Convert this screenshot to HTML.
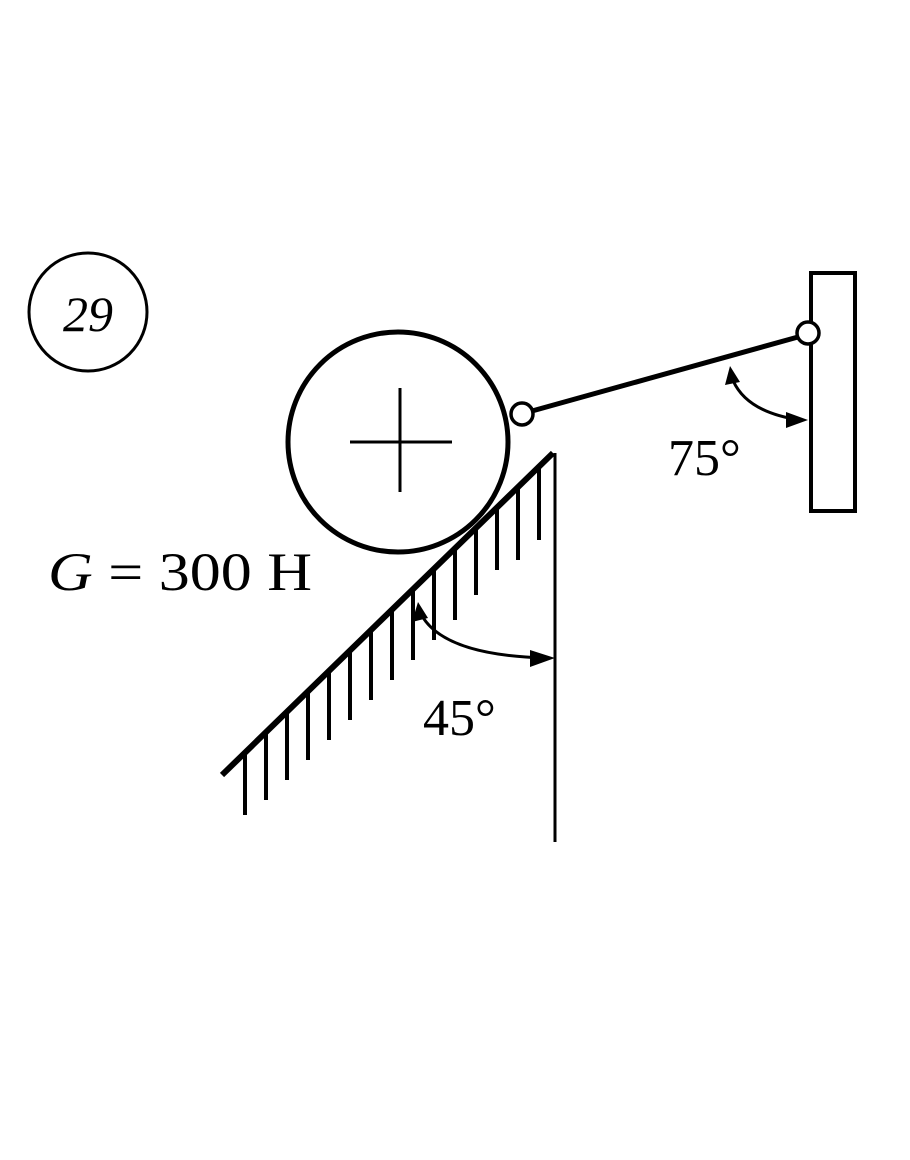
<!DOCTYPE html>
<html><head><style>body{margin:0;background:#fff}</style></head><body>
<svg width="910" height="1155" xmlns="http://www.w3.org/2000/svg" font-family="Liberation Serif, serif">
<rect width="910" height="1155" fill="#fff"/>
<circle cx="88" cy="312" r="59" fill="none" stroke="#000" stroke-width="3"/>
<text x="88" y="331" font-size="50" font-style="italic" text-anchor="middle">29</text>
<circle cx="398" cy="442" r="110" fill="none" stroke="#000" stroke-width="5"/>
<line x1="350" y1="442" x2="452" y2="442" stroke="#000" stroke-width="3"/>
<line x1="400" y1="388" x2="400" y2="492" stroke="#000" stroke-width="3"/>
<line x1="532" y1="411" x2="798" y2="337" stroke="#000" stroke-width="5"/>
<circle cx="522" cy="414" r="11" fill="#fff" stroke="#000" stroke-width="3.5"/>
<rect x="811" y="273" width="44" height="238" fill="none" stroke="#000" stroke-width="4"/>
<circle cx="808" cy="333" r="11" fill="#fff" stroke="#000" stroke-width="3.5"/>
<path d="M732 378 Q745 412 800 420" fill="none" stroke="#000" stroke-width="3"/>
<polygon points="730,366 725,385 740,382" fill="#000"/>
<polygon points="808,420 786,412 786,428" fill="#000"/>
<text x="668" y="475" font-size="52">75°</text>
<line x1="222" y1="775" x2="553" y2="453" stroke="#000" stroke-width="6"/>
<line x1="555" y1="453" x2="555" y2="842" stroke="#000" stroke-width="3"/>
<g stroke="#000" stroke-width="4">
<line x1="245" y1="753" x2="245" y2="815"/>
<line x1="266" y1="732" x2="266" y2="800"/>
<line x1="287" y1="712" x2="287" y2="780"/>
<line x1="308" y1="692" x2="308" y2="760"/>
<line x1="329" y1="671" x2="329" y2="740"/>
<line x1="350" y1="651" x2="350" y2="720"/>
<line x1="371" y1="630" x2="371" y2="700"/>
<line x1="392" y1="610" x2="392" y2="680"/>
<line x1="413" y1="590" x2="413" y2="660"/>
<line x1="434" y1="569" x2="434" y2="640"/>
<line x1="455" y1="549" x2="455" y2="620"/>
<line x1="476" y1="529" x2="476" y2="595"/>
<line x1="497" y1="508" x2="497" y2="570"/>
<line x1="518" y1="488" x2="518" y2="560"/>
<line x1="539" y1="467" x2="539" y2="540"/>
</g>
<path d="M420 612 Q440 655 545 658" fill="none" stroke="#000" stroke-width="3"/>
<polygon points="418,602 412,622 428,618" fill="#000"/>
<polygon points="555,658 530,650 530,667" fill="#000"/>
<text x="423" y="735" font-size="52">45°</text>
<text x="48" y="590" font-size="54" textLength="264" lengthAdjust="spacingAndGlyphs"><tspan font-style="italic">G</tspan> = 300 H</text>
</svg>
</body></html>
